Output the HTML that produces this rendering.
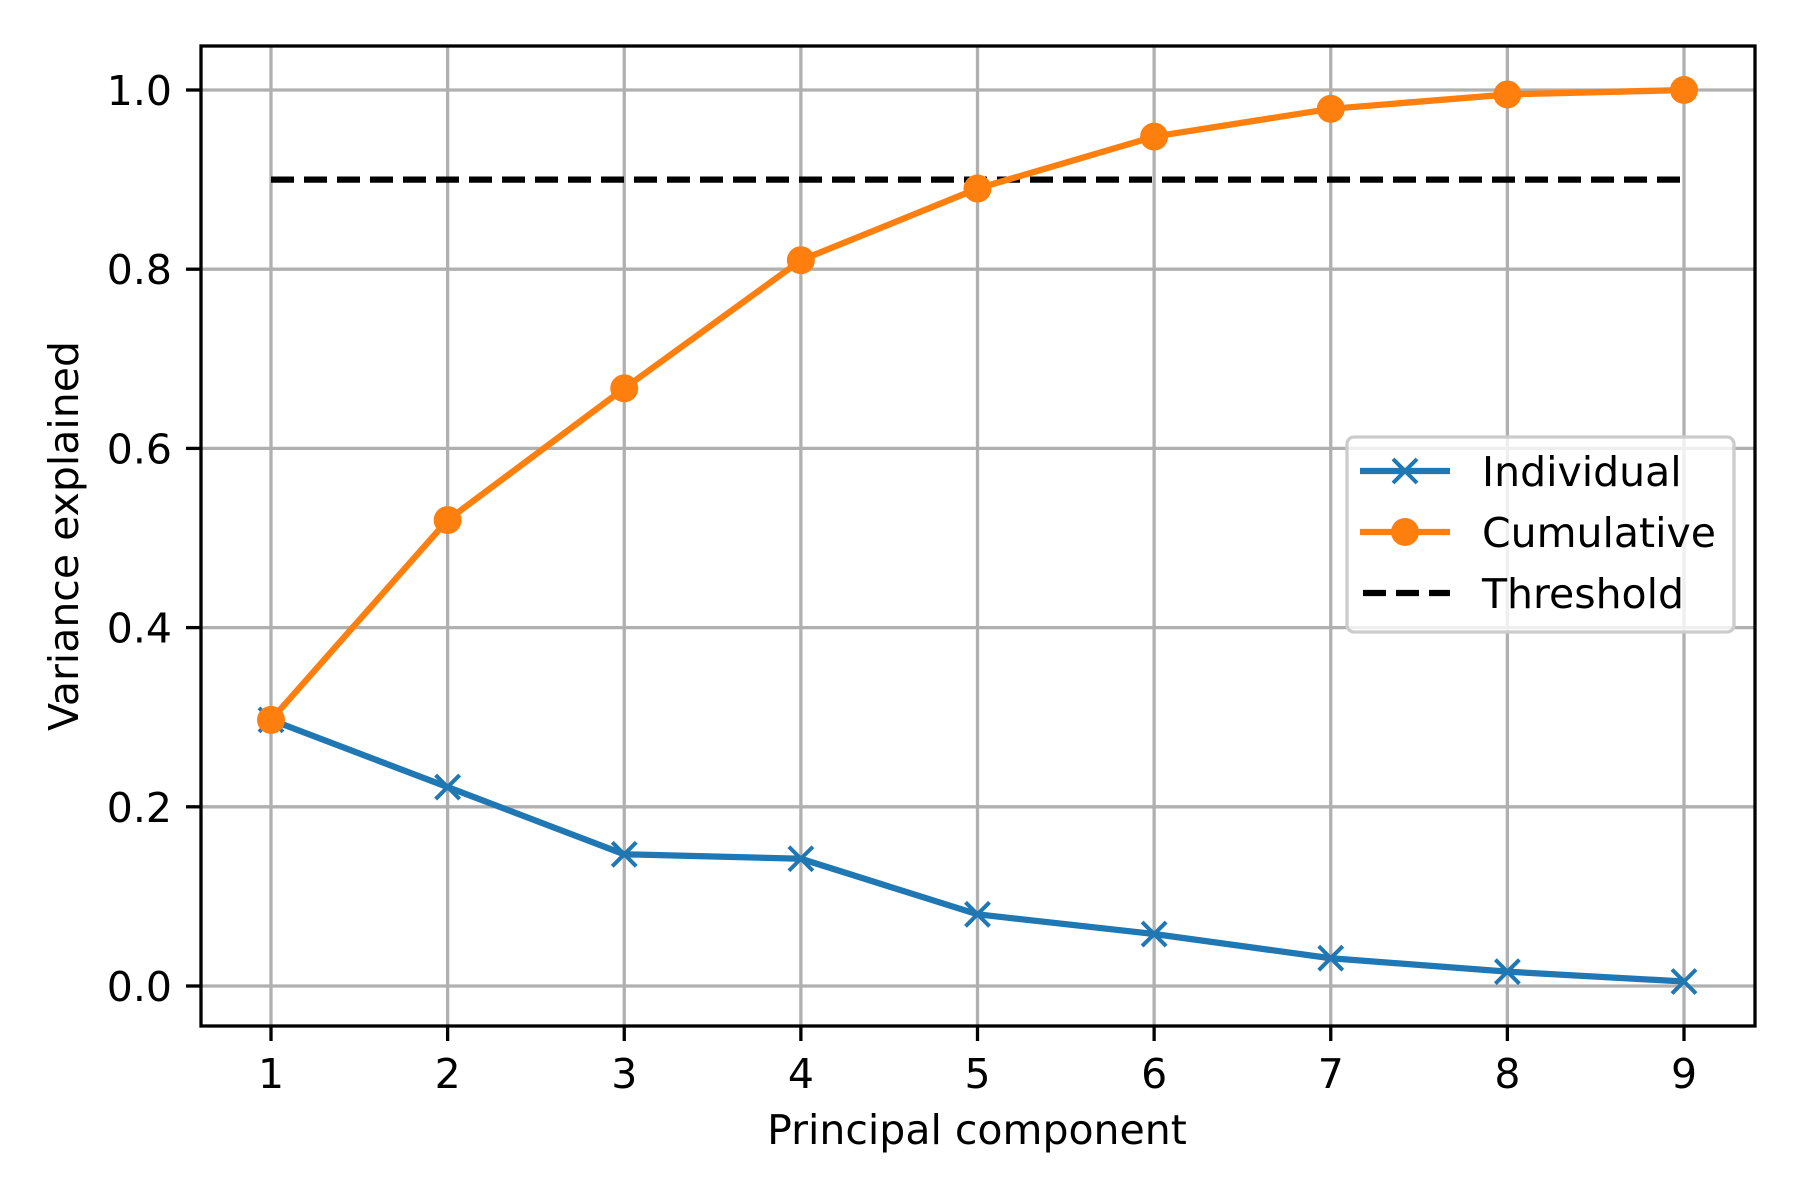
<!DOCTYPE html>
<html><head><meta charset="utf-8"><style>
html,body{margin:0;padding:0;background:#fff;}
svg{display:block;font-family:"DejaVu Sans","Liberation Sans",sans-serif;}
</style></head><body>
<svg id="chart" width="1800" height="1200" viewBox="0 0 1800 1200" xmlns="http://www.w3.org/2000/svg">
<rect width="1800" height="1200" fill="#fff"/>
<g id="grid"></g>
<g id="series"></g>
<rect x="201" y="46" width="1554" height="980" fill="none" stroke="#000" stroke-width="3.3"/>
<g id="ticks"></g>
<text x="977" y="1144" font-size="41" text-anchor="middle">Principal component</text>
<text x="0" y="0" font-size="41" text-anchor="middle" transform="translate(78,536) rotate(-90)">Variance explained</text>
<g>
<rect x="1347" y="437" width="387" height="195" rx="7" fill="#fff" fill-opacity="0.8" stroke="#cccccc" stroke-width="3.3"/>
<g>
<line x1="1360" y1="471" x2="1450" y2="471" stroke="#1f77b4" stroke-width="6.25"/>
<path d="M1393 459 L1417 483 M1393 483 L1417 459" stroke="#1f77b4" stroke-width="4"/>
<text x="1482" y="486" font-size="41">Individual</text></g>
<g>
<line x1="1360" y1="532" x2="1450" y2="532" stroke="#ff7f0e" stroke-width="6.25"/>
<circle cx="1405" cy="532" r="14" fill="#ff7f0e"/>
<text x="1482" y="547" font-size="41">Cumulative</text></g>
<g>
<line x1="1363" y1="593" x2="1450" y2="593" stroke="#000" stroke-width="6.25" stroke-dasharray="23,10"/>
<text x="1482" y="608" font-size="41">Threshold</text></g>
</g>
</svg>
<script>
const components = [1,2,3,4,5,6,7,8,9];
const individual = [0.297,0.222,0.147,0.142,0.080,0.058,0.031,0.016,0.005];
const cumulative = [0.297,0.520,0.667,0.810,0.890,0.948,0.979,0.995,1.000];
const threshold = 0.9;
const yTicks = [0.0,0.2,0.4,0.6,0.8,1.0];
const yTickLabels = ["0.0","0.2","0.4","0.6","0.8","1.0"];

const NS="http://www.w3.org/2000/svg";
function xs(v){return 271+(v-1)*(1684-271)/8;}
function ys(v){return 986-v*896;}
function mk(tag,attrs,parent){const e=document.createElementNS(NS,tag);for(const k in attrs)e.setAttribute(k,attrs[k]);parent.appendChild(e);return e;}
const grid=document.getElementById('grid'),ticks=document.getElementById('ticks'),series=document.getElementById('series');
components.forEach(c=>{
  const l=mk('line',{x1:xs(c),x2:xs(c),y1:46,y2:1026,stroke:'#b0b0b0','stroke-width':3.3},grid);
  
  
  const t=mk('line',{x1:xs(c),x2:xs(c),y1:1026,y2:1041,stroke:'#000','stroke-width':3.3},ticks);
  
  
  const tx=mk('text',{x:xs(c),y:1088,'font-size':41,'text-anchor':'middle'},ticks);tx.textContent=c;
  
  
});
yTicks.forEach((v,i)=>{
  const l=mk('line',{x1:201,x2:1755,y1:ys(v),y2:ys(v),stroke:'#b0b0b0','stroke-width':3.3},grid);
  
  
  const t=mk('line',{x1:186,x2:201,y1:ys(v),y2:ys(v),stroke:'#000','stroke-width':3.3},ticks);
  
  
  const tx=mk('text',{x:172,y:ys(v)+15,'font-size':41,'text-anchor':'end'},ticks);tx.textContent=yTickLabels[i];
  
  
});
const th=mk('line',{x1:xs(components[0]),x2:xs(components[components.length-1]),y1:ys(threshold),y2:ys(threshold),stroke:'#000','stroke-width':6.25,'stroke-dasharray':'23,10'},series);


const pInd=mk('polyline',{points:components.map((c,i)=>xs(c)+','+ys(individual[i])).join(' '),fill:'none',stroke:'#1f77b4','stroke-width':6.25,'stroke-linejoin':'round'},series);


components.forEach((c,i)=>{
  const x=xs(c),y=ys(individual[i]);
  const m=mk('path',{d:`M${x-12} ${y-12} L${x+12} ${y+12} M${x-12} ${y+12} L${x+12} ${y-12}`,stroke:'#1f77b4','stroke-width':4},series);
  
  
});
const pCum=mk('polyline',{points:components.map((c,i)=>xs(c)+','+ys(cumulative[i])).join(' '),fill:'none',stroke:'#ff7f0e','stroke-width':6.25,'stroke-linejoin':'round'},series);


components.forEach((c,i)=>{
  const m=mk('circle',{cx:xs(c),cy:ys(cumulative[i]),r:14,fill:'#ff7f0e'},series);
  
  
});
</script>
</body></html>
